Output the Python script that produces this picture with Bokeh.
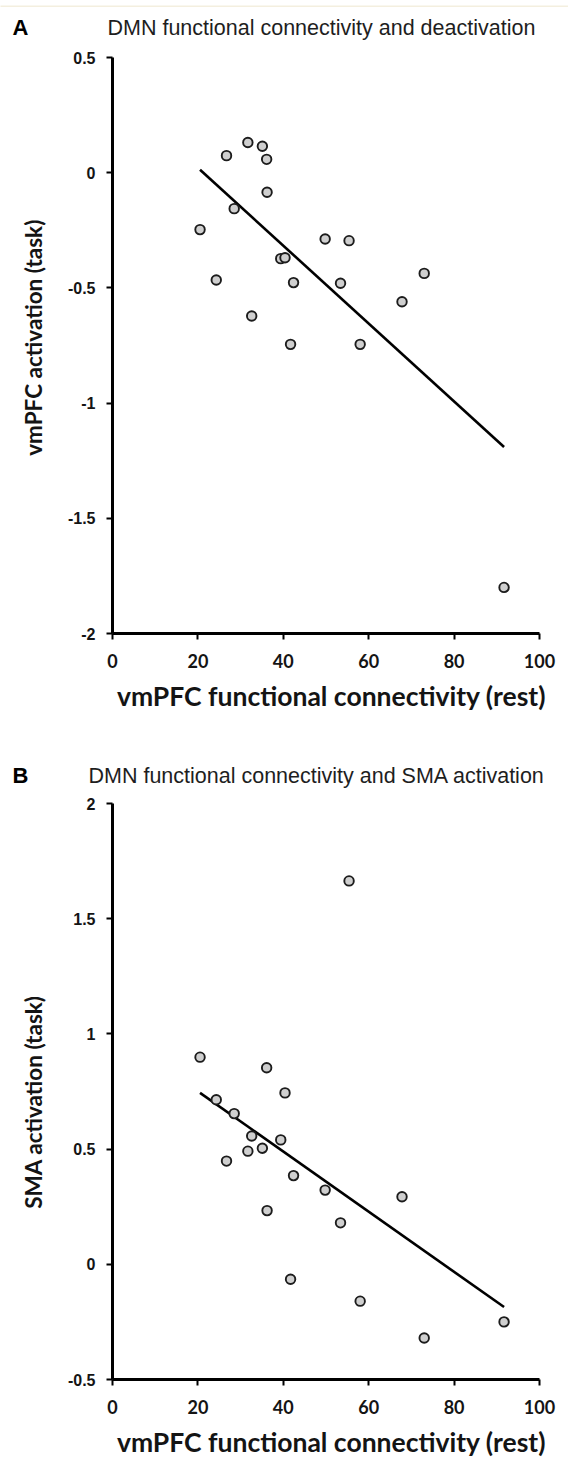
import numpy as np
from math import pi
from bokeh.plotting import figure
from bokeh.models import Range1d, FixedTicker
from bokeh.layouts import column, row
from bokeh.core.properties import value
from bokeh.embed import file_html
from bokeh.resources import INLINE

# ---- data ----
fc_rest = [20.5, 24.3, 26.7, 28.5, 31.7, 32.6, 35.1, 36.1, 36.2, 39.4,
           40.4, 41.7, 42.4, 49.8, 53.4, 55.4, 58.0, 67.8, 73.0, 91.7]
vmpfc_task = [-0.247, -0.466, 0.074, -0.156, 0.131, -0.622, 0.115, 0.058, -0.085, -0.373,
              -0.369, -0.745, -0.477, -0.288, -0.480, -0.295, -0.745, -0.560, -0.437, -1.80]
sma_task = [0.899, 0.714, 0.448, 0.654, 0.491, 0.557, 0.504, 0.853, 0.233, 0.540,
            0.744, -0.065, 0.385, 0.322, 0.18, 1.664, -0.16, 0.293, -0.32, -0.25]

x_ticks = [0, 20, 40, 60, 80, 100]
a_y_ticks = [-2, -1.5, -1, -0.5, 0, 0.5]
a_y_tick_labels = ["-2", "-1.5", "-1", "-0.5", "0", "0.5"]
b_y_ticks = [-0.5, 0, 0.5, 1, 1.5, 2]
b_y_tick_labels = ["-0.5", "0", "0.5", "1", "1.5", "2"]

x_label = "vmPFC functional connectivity (rest)"
a_title = "DMN functional connectivity and deactivation"
b_title = "DMN functional connectivity and SMA activation"
a_ylabel = "vmPFC activation (task)"
b_ylabel = "SMA activation (task)"

PAGE_W = 568
LEFT_W = 60          # narrow figure holding the rotated y label
MAIN_W = PAGE_W - LEFT_W
FRAME_LEFT = 112     # page x of the y axis
FRAME_W = 427
MAIN_H = 631
FRAME_TOP_PAD = 12
FRAME_H = 576

TXT = "#141414"


def blank_fig(w, h, fill="white"):
    p = figure(width=w, height=h, x_range=Range1d(0, w), y_range=Range1d(0, h),
               output_backend="svg", toolbar_location=None, title=None,
               x_axis_location=None, y_axis_location=None,
               min_border=0, min_border_left=0, min_border_right=0,
               min_border_top=0, min_border_bottom=0)
    p.outline_line_color = None
    p.grid.visible = False
    p.background_fill_color = fill
    p.border_fill_color = fill
    return p


def put_text(p, x, y_top, text, font, size, style="normal", align="left",
             baseline="alphabetic", angle=0.0, color=TXT):
    h = p.height
    p.text(x=[x], y=[h - y_top], text=[text], text_font=value(font),
           text_font_size=size, text_font_style=style, text_align=align,
           text_baseline=baseline, angle=angle, text_color=color)


def header(h, letter, title, title_x, base):
    p = blank_fig(PAGE_W, h)
    put_text(p, 12, base, letter, "Liberation Sans", "22px", style="bold", color="#000000")
    put_text(p, title_x, base, title, "Liberation Sans", "21.5px", color="#1e1e1e")
    return p


def footer(h, base):
    p = blank_fig(PAGE_W, h)
    put_text(p, 331, base, x_label, "Lato", "26.5px", style="bold", align="center")
    return p


def main_panel(ys, yr, yticks, ylabels, ylabel, ylabel_cy):
    lf = blank_fig(LEFT_W, MAIN_H)
    put_text(lf, 33, ylabel_cy, ylabel, "Lato", "22.5px", style="bold", align="center",
             baseline="middle", angle=pi / 2)

    bl = FRAME_LEFT - LEFT_W
    p = figure(width=MAIN_W, height=MAIN_H, x_range=Range1d(0, 100), y_range=Range1d(*yr),
               output_backend="svg", toolbar_location=None, title=None,
               min_border_left=bl, min_border_right=MAIN_W - bl - FRAME_W,
               min_border_top=FRAME_TOP_PAD,
               min_border_bottom=MAIN_H - FRAME_TOP_PAD - FRAME_H)
    p.outline_line_color = None
    p.grid.visible = False

    for ax in (p.xaxis[0], p.yaxis[0]):
        ax.axis_line_width = 3
        ax.axis_line_color = "black"
        ax.major_tick_line_width = 2
        ax.major_tick_line_color = "black"
        ax.major_tick_out = 6
        ax.major_tick_in = 0
        ax.minor_tick_out = 0
        ax.minor_tick_in = 0
        ax.major_label_text_color = TXT
        ax.major_label_text_font_style = "bold"

    p.xaxis.ticker = FixedTicker(ticks=x_ticks)
    p.xaxis.major_label_overrides = {t: str(t) for t in x_ticks}
    p.xaxis.major_label_text_font = "Lato"
    p.xaxis.major_label_text_font_size = "18px"
    p.xaxis.major_label_standoff = 14

    p.yaxis.ticker = FixedTicker(ticks=yticks)
    p.yaxis.major_label_overrides = {t: s for t, s in zip(yticks, ylabels)}
    p.yaxis.major_label_text_font = "Liberation Sans"
    p.yaxis.major_label_text_font_size = "16px"
    p.yaxis.major_label_standoff = 11

    # least-squares regression line through the data
    xs = np.array(fc_rest)
    yv = np.array(ys)
    slope, icpt = np.polyfit(xs, yv, 1)
    lx = [float(xs.min()), float(xs.max())]
    p.line(lx, [float(icpt + slope * v) for v in lx], line_color="black", line_width=2.6)

    p.scatter(fc_rest, ys, marker="circle", size=9.5, fill_color="#cfcfcf",
              line_color="#1c1c1c", line_width=1.9)
    return row(lf, p, spacing=0)


strip = blank_fig(PAGE_W, 7, fill="#f4efdf")
hA = header(38, "A", a_title, 107, 20)
mA = main_panel(vmpfc_task, (-2, 0.5), a_y_ticks, a_y_tick_labels, a_ylabel, 352 - 45)
fA = footer(40, 19)
hB = header(75, "B", b_title, 88, 59)
mB = main_panel(sma_task, (-0.5, 2), b_y_ticks, b_y_tick_labels, b_ylabel, 1118 - 791)
fB = footer(36, 19)

layout = column(strip, hA, mA, fA, hB, mB, fB, spacing=0)
open("out.html", "w").write(file_html(layout, INLINE))
